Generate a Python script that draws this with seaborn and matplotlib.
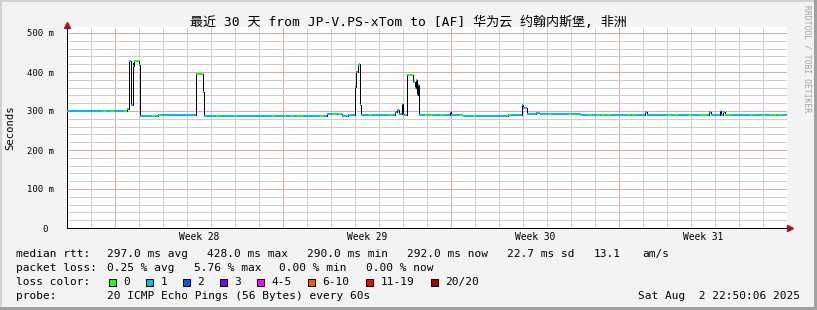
import matplotlib
matplotlib.use("Agg")
import numpy as np
import pandas as pd
import matplotlib.pyplot as plt
import seaborn as sns
from matplotlib.patches import Rectangle

# ---------------- data ----------------
day_span = 30
# start day of each step of the median RTT (ms)
step_day = [0.00, 2.50, 2.58, 2.65, 2.73, 2.77, 2.79, 3.02, 3.05, 3.79,
            5.37, 5.65, 5.69, 10.82, 11.45, 11.71, 12.01, 12.06, 12.13, 12.17,
            12.21, 12.24, 13.67, 13.75, 13.83, 13.94, 14.00, 14.15, 14.42, 14.48,
            14.54, 14.57, 14.61, 14.65, 15.96, 16.02, 16.50, 18.37, 18.95, 19.02,
            19.15, 19.54, 19.71, 21.40, 24.10, 24.17, 26.77, 26.83, 27.19, 27.27,
            27.33, 27.40]
median_ms = [301, 306, 428, 315, 424, 416, 428, 418, 287, 290,
             394, 350, 287, 292, 288, 290, 361, 400, 418, 420,
             315, 289, 298, 303, 292, 317, 290, 392, 375, 358,
             380, 341, 367, 290, 298, 290, 288, 290, 316, 307,
             292, 295, 292, 290.5, 298, 290.5, 297, 290.5, 300, 291,
             298, 290.5]
# intervals (days) where packet loss was 0 (green); elsewhere 1 (blue)
loss0_start = [1.50, 1.83, 2.38, 2.79, 3.54, 3.79, 5.42, 6.21, 6.29, 6.96,
               8.54, 9.00, 9.29, 9.58, 9.71, 10.54, 11.08, 11.29, 12.15, 12.58,
               13.42, 14.21, 14.92, 15.12, 15.54, 16.38, 16.92, 18.38, 20.04, 20.92,
               21.75, 22.08, 22.29, 22.50, 23.33, 23.54, 25.04, 25.33, 25.88, 26.38,
               26.50, 27.42, 27.54, 28.46, 28.96, 29.29, 29.42, 29.62]
loss0_end = [1.62, 1.95, 2.50, 3.02, 3.66, 3.91, 5.65, 6.29, 6.37, 7.08,
             8.66, 9.12, 9.41, 9.68, 9.83, 10.66, 11.20, 11.41, 12.21, 12.70,
             13.54, 14.42, 15.04, 15.24, 15.66, 16.50, 17.04, 18.50, 20.16, 21.04,
             21.87, 22.20, 22.41, 22.62, 23.45, 23.66, 25.16, 25.45, 26.00, 26.48,
             26.62, 27.50, 27.66, 28.58, 29.08, 29.39, 29.54, 29.74]

y_ticks = [0, 100, 200, 300, 400, 500]
y_tick_labels = ["0 ", "100 m", "200 m", "300 m", "400 m", "500 m"]
week_pos = [5.5, 12.5, 19.5, 26.5]
week_labels = ["Week 28", "Week 29", "Week 30", "Week 31"]

title = "最近 30 天 from JP-V.PS-xTom to [AF] 华为云 约翰内斯堡, 非洲"
rtt_stats = ["297.0 ms avg", "428.0 ms max", "290.0 ms min", "292.0 ms now",
             "22.7 ms sd", "13.1", "am/s"]
loss_stats = ["0.25 % avg", "5.76 % max", "0.00 % min", "0.00 % now"]
loss_labels = ["0", "1", "2", "3", "4-5", "6-10", "11-19", "20/20"]
loss_colors = ["#26ff00", "#00b8ff", "#0059ff", "#7e00ff", "#ff00ff",
               "#ff5500", "#ff0000", "#a00000"]
probe_text = "20 ICMP Echo Pings (56 Bytes) every 60s"
stamp = "Sat Aug  2 22:50:06 2025"

# ---------------- layout ----------------
W, H, DPI = 817, 310, 100
PX = 72.0 / DPI
BG = "#F3F3F3"
MAJ = "#E6A6A6"
MIN = "#CDCDCD"
ARROW = "#9E1B1B"

sns.set_theme(style="white")
plt.rcParams["font.family"] = ["DejaVu Sans Mono", "Noto Sans CJK SC"]
plt.rcParams["axes.unicode_minus"] = False

fig = plt.figure(figsize=(W / DPI, H / DPI), dpi=DPI, facecolor=BG)
L, R, T, B = 67, 787, 27, 228
ax = fig.add_axes([L / W, 1 - B / H, (R - L) / W, (B - T) / H])
ax.set_facecolor("white")
ymax = 500 * (B - T) / (B - 33)
ax.set_xlim(0, day_span)
ax.set_ylim(0, ymax)

dot = (0, (1, 1))
for d in range(1, day_span + 1):
    major = (d - 2) % 7 == 0
    ax.axvline(d, color=MAJ if major else MIN, lw=PX, ls=dot, zorder=0.5,
               antialiased=False)
for v in range(20, int(ymax) + 1, 20):
    ax.axhline(v, color=MAJ if v % 100 == 0 else MIN, lw=PX, ls=dot, zorder=0.5,
               antialiased=False)

# median line: black steps, then loss-coloured horizontal segments
steps = pd.DataFrame({"day": step_day + [day_span],
                      "median_ms": median_ms + [median_ms[-1]]})
sns.lineplot(data=steps, x="day", y="median_ms", drawstyle="steps-post",
             color="black", linewidth=PX, estimator=None, sort=False, ax=ax,
             zorder=3)

ends = step_day[1:] + [day_span]
rows = []
for i, (s, e, v) in enumerate(zip(step_day, ends, median_ms)):
    rows += [(s, v, i, "1"), (e, v, i, "1")]
for j, (s, e) in enumerate(zip(loss0_start, loss0_end)):
    v = median_ms[int(np.searchsorted(step_day, s, side="right")) - 1]
    rows += [(s, v, 1000 + j, "0"), (e, v, 1000 + j, "0")]
seg = pd.DataFrame(rows, columns=["day", "ms", "seg", "loss"])
sns.lineplot(data=seg, x="day", y="ms", units="seg", hue="loss",
             hue_order=["1", "0"],
             palette={"1": loss_colors[1], "0": loss_colors[0]},
             estimator=None, sort=False, linewidth=2 * PX, legend=False,
             ax=ax, zorder=4, solid_capstyle="butt")

# axes styling
for sp in ["top", "right"]:
    ax.spines[sp].set_visible(False)
for sp in ["left", "bottom"]:
    ax.spines[sp].set_color("black")
    ax.spines[sp].set_linewidth(PX)
ax.set_xlabel("")
ax.set_ylabel("")
ax.set_xticks([d for d in range(2, day_span + 1, 7)])
ax.set_xticklabels([])
ax.set_xticks(list(range(1, day_span + 1)), minor=True)
ax.tick_params(axis="x", which="major", length=3, width=PX, color=MAJ, direction="out")
ax.tick_params(axis="x", which="minor", length=2, width=PX, color=MIN, direction="out")
ax.set_yticks(y_ticks)
ax.set_yticklabels(y_tick_labels, fontsize=6.4, color="black")
ax.tick_params(axis="y", which="major", length=3, width=PX, color=MAJ, pad=6.5,
               direction="out")
for xp, lab in zip(week_pos, week_labels):
    ax.annotate(lab, xy=(xp, 0), xycoords=("data", "axes fraction"),
                xytext=(0, -12.3 * PX), textcoords="offset points",
                ha="center", va="baseline", fontsize=6.9, color="black")

# arrows
ax.plot([0], [1 + 2.5 / (B - T)], marker="^", ms=3.8, color=ARROW,
        transform=ax.transAxes, clip_on=False, zorder=6)
ax.plot([1 + 3 / (R - L)], [0], marker=">", ms=3.8, color=ARROW,
        transform=ax.transAxes, clip_on=False, zorder=6)


def ftxt(x, y, s, **kw):
    kw.setdefault("color", "black")
    kw.setdefault("fontsize", 8.0)
    kw.setdefault("va", "baseline")
    fig.text(x / W, 1 - y / H, s, **kw)


ftxt(408, 26, title, ha="center", fontsize=9.4)
ftxt(10, 127.5, "Seconds", rotation=90, ha="center", va="center", fontsize=7.6)
ftxt(807.5, 59, "RRDTOOL / TOBI OETIKER", rotation=270, ha="center",
     va="center", fontsize=5.8, color="#A4A4A4")

# legend rows
ftxt(16, 257.3, "median rtt:")
for xp, s in zip([107.3, 207.3, 307.3, 407.3, 507.3, 593.3, 642.3], rtt_stats):
    ftxt(xp, 257.3, s)
ftxt(16, 271.3, "packet loss:")
for xp, s in zip([107.3, 194.0, 279.3, 365.7], loss_stats):
    ftxt(xp, 271.3, s)
ftxt(16, 285.3, "loss color:")
cur = 108.7
for lab, col in zip(loss_labels, loss_colors):
    fig.add_artist(Rectangle((cur / W, 1 - 286 / H), 7.5 / W, 7.5 / H,
                             transform=fig.transFigure, facecolor=col,
                             edgecolor="black", lw=PX))
    lx = cur + 14.6
    ftxt(lx, 285.3, lab)
    cur = lx + len(lab) * 7.0 + 15.4
ftxt(16, 299, "probe:")
ftxt(107.3, 299, probe_text)
ftxt(800, 299, stamp, ha="right")

# 3D border
fig.add_artist(Rectangle((0, 1 - 2 / H), 1, 2 / H, transform=fig.transFigure,
                         color="#D2D2D2", lw=0))
fig.add_artist(Rectangle((0, 0), 2 / W, 1, transform=fig.transFigure,
                         color="#D2D2D2", lw=0))
fig.add_artist(Rectangle((1 - 3 / W, 0), 3 / W, 1, transform=fig.transFigure,
                         color="#A0A0A0", lw=0))
fig.add_artist(Rectangle((0, 0), 1, 3 / H, transform=fig.transFigure,
                         color="#A0A0A0", lw=0))

fig.savefig("out.png", dpi=DPI, facecolor=BG)
